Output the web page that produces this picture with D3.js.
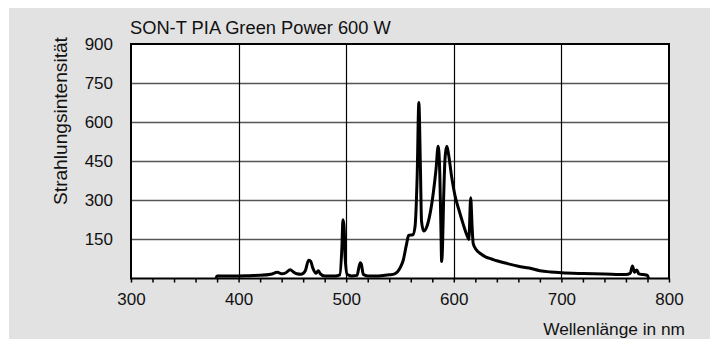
<!DOCTYPE html>
<html>
<head>
<meta charset="utf-8">
<script src="https://cdn.jsdelivr.net/npm/d3@7"></script>
<style>
  html, body { margin: 0; padding: 0; background: #fff; }
  svg { display: block; }
  text { font-family: "Liberation Sans", Arial, sans-serif; fill: #111; }
</style>
</head>
<body>
<svg id="chart" width="710" height="339"></svg>
<script>
// Data
const title = 'SON-T PIA Green Power 600 W';
const yLabel = 'Strahlungsintensität';
const xLabel = 'Wellenlänge in nm';
const yTicks = [150, 300, 450, 600, 750, 900];
const xTicks = [300, 400, 500, 600, 700, 800];
const xMinorTicks = d3.range(300, 801, 20);

const wavelength = [
    379, 380, 390, 400, 410, 420, 430, 436, 440, 444, 448, 451, 454, 458, 462, 465, 467, 469,
    472, 474, 476, 480, 490, 494, 496, 497, 498, 499, 501, 505, 510, 513, 514, 516, 520, 530,
    540, 545, 550, 553, 556, 558, 562, 564, 566, 567.5, 569, 570, 572, 575, 578, 581, 583.5,
    585.5, 587, 588, 588.7, 589.5, 590.5, 592, 593.5, 595, 598, 601, 605, 609, 612, 614, 615.7,
    617, 618, 621, 625, 630, 635, 640, 650, 660, 670, 680, 690, 700, 720, 740, 760, 764, 766,
    768, 770, 772, 776, 780, 781
];
const intensity = [
    2, 10, 10, 10, 11, 12, 16, 24, 18, 22, 34, 25, 18, 16, 30, 70, 66, 40,
    20, 30, 18, 10, 10, 14, 120, 225, 200, 80, 15, 10, 12, 60, 55, 15, 10, 10,
    14, 18, 40, 70, 130, 165, 168, 200, 400, 675, 420, 220, 182, 200, 250, 330, 420,
    508, 400, 200, 65, 120, 300, 470, 508, 480, 390, 320, 260, 205, 168, 150, 310,
    200, 135, 110, 95, 82, 75, 68, 57, 47, 40, 30, 25, 22, 19, 17, 15, 20, 48,
    24, 33, 18, 15, 12, 0
];

const spectrum = wavelength.map((w, i) => ({ w, v: intensity[i] }));

const width = 710, height = 339;
const margin = { top: 44, right: 41, bottom: 60.5, left: 131 };
const innerW = width - margin.left - margin.right;
const innerH = height - margin.top - margin.bottom;

// shrink/grow a label's font so it spans the width seen in the picture
const fitText = (sel, target, base) => {
    sel.style('font-size', base + 'px');
    const len = sel.node().getComputedTextLength();
    sel.style('font-size', (base * target / len).toFixed(2) + 'px');
};

const svg = d3.select('#chart');

// grey panel
svg.append('rect')
    .attr('x', 9).attr('y', 8)
    .attr('width', width - 9).attr('height', height - 8)
    .attr('fill', '#e2e2e2');

const x = d3.scaleLinear().domain([300, 800]).range([margin.left, margin.left + innerW]);
const y = d3.scaleLinear().domain([0, 900]).range([margin.top + innerH, margin.top]);

// plot area
svg.append('rect')
    .attr('x', margin.left).attr('y', margin.top)
    .attr('width', innerW).attr('height', innerH)
    .attr('fill', '#fff');

// grid
svg.append('g').selectAll('line')
    .data(yTicks.filter(t => t < 900))
    .join('line')
    .attr('x1', margin.left).attr('x2', margin.left + innerW)
    .attr('y1', d => Math.round(y(d)) + 0.5).attr('y2', d => Math.round(y(d)) + 0.5)
    .attr('stroke', '#555').attr('stroke-width', 1.3);

svg.append('g').selectAll('line')
    .data(xTicks.filter(t => t > 300 && t < 800))
    .join('line')
    .attr('x1', d => Math.round(x(d)) + 0.5).attr('x2', d => Math.round(x(d)) + 0.5)
    .attr('y1', margin.top).attr('y2', margin.top + innerH)
    .attr('stroke', '#000').attr('stroke-width', 1.2);

// x axis: minor ticks every 20 nm, labels every 100 nm
const xAxis = d3.axisBottom(x)
    .tickValues(xMinorTicks)
    .tickSize(4)
    .tickFormat(d => xTicks.includes(d) ? d : '');
const gx = svg.append('g')
    .attr('transform', `translate(0, ${margin.top + innerH})`)
    .call(xAxis);
gx.select('.domain').remove();
gx.selectAll('.tick line').attr('stroke', '#000').attr('stroke-width', 1.5);
gx.selectAll('.tick text')
    .attr('y', 14)
    .attr('dy', '0.71em')
    .style('font-size', '17px')
    .attr('fill', '#111');

// y axis: labels only
const yAxis = d3.axisLeft(y)
    .tickValues(yTicks)
    .tickSize(0)
    .tickPadding(18);
const gy = svg.append('g')
    .attr('transform', `translate(${margin.left}, 0)`)
    .call(yAxis);
gy.select('.domain').remove();
gy.selectAll('.tick text')
    .style('font-size', '17px')
    .attr('fill', '#111');

// spectrum line
const line = d3.line()
    .x(d => x(d.w))
    .y(d => y(d.v))
    .curve(d3.curveMonotoneX);

svg.append('path')
    .datum(spectrum)
    .attr('fill', 'none')
    .attr('stroke', '#000')
    .attr('stroke-width', 3)
    .attr('stroke-linejoin', 'round')
    .attr('d', line);

// frame
svg.append('rect')
    .attr('x', margin.left).attr('y', margin.top)
    .attr('width', innerW).attr('height', innerH)
    .attr('fill', 'none')
    .attr('stroke', '#000')
    .attr('stroke-width', 2);

// texts
svg.append('text')
    .attr('x', margin.left - 1)
    .attr('y', 34)
    .call(fitText, 261, 18)
    .text(title)
    .call(fitText, 261, 18);

svg.append('text')
    .attr('transform', `translate(67, 121) rotate(-90)`)
    .attr('text-anchor', 'middle')
    .text(yLabel)
    .call(fitText, 168, 15);

svg.append('text')
    .attr('x', 685)
    .attr('y', 335)
    .attr('text-anchor', 'end')
    .text(xLabel)
    .call(fitText, 142, 15);
</script>
</body>
</html>
